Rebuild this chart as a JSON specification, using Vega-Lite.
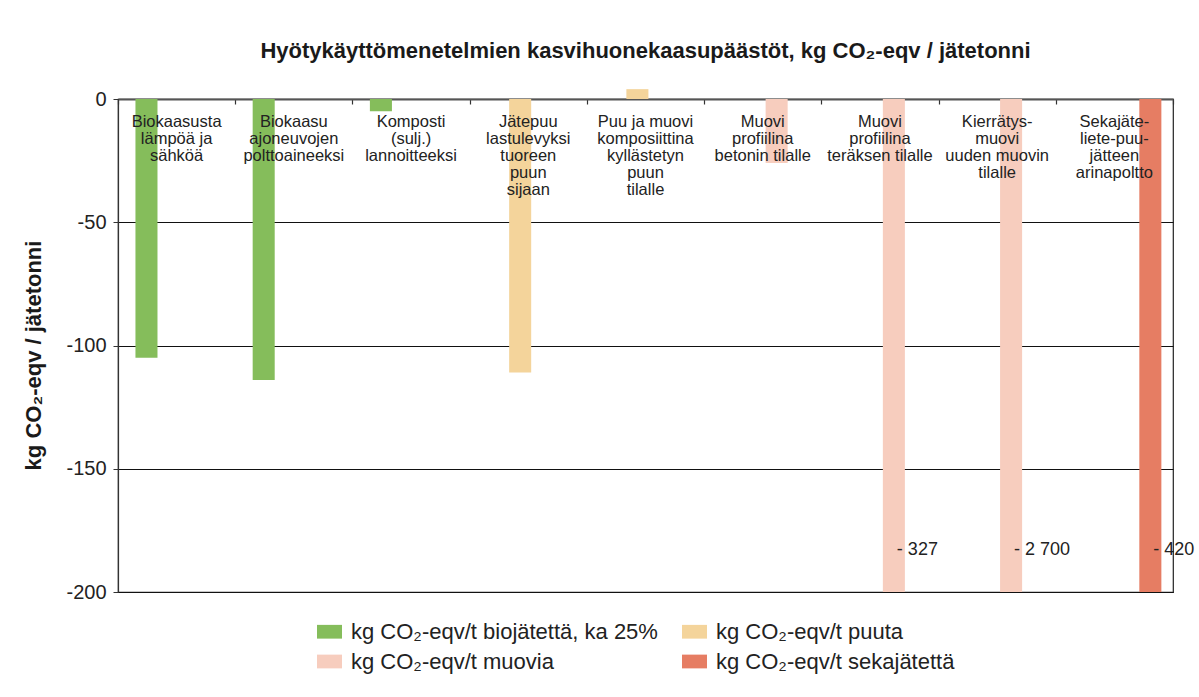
{
  "$schema": "https://vega.github.io/schema/vega-lite/v6.json",
  "width": 1055,
  "height": 493,
  "autosize": {"type": "none"},
  "padding": {"left": 118, "top": 99, "right": 26, "bottom": 105},
  "background": "white",
  "config": {
    "font": "Liberation Sans",
    "view": {"stroke": "#222", "strokeWidth": 1.2}
  },
  "title": {
    "text": "Hyötykäyttömenetelmien kasvihuonekaasupäästöt, kg CO₂-eqv / jätetonni",
    "fontSize": 22,
    "fontWeight": "bold",
    "color": "#1a1a1a",
    "anchor": "middle",
    "offset": 26
  },
  "data": {
    "values": [
      {"cat": "Biokaasusta\nlämpöä ja\nsähköä", "series": "kg CO₂-eqv/t biojätettä, ka 25%", "value": -105, "valueLabel": ""},
      {"cat": "Biokaasu\najoneuvojen\npolttoaineeksi", "series": "kg CO₂-eqv/t biojätettä, ka 25%", "value": -114, "valueLabel": ""},
      {"cat": "Komposti\n(sulj.)\nlannoitteeksi", "series": "kg CO₂-eqv/t biojätettä, ka 25%", "value": -5, "valueLabel": ""},
      {"cat": "Jätepuu\nlastulevyksi\ntuoreen\npuun\nsijaan", "series": "kg CO₂-eqv/t puuta", "value": -111, "valueLabel": ""},
      {"cat": "Puu ja muovi\nkomposiittina\nkyllästetyn\npuun\ntilalle", "series": "kg CO₂-eqv/t puuta", "value": 4, "valueLabel": ""},
      {"cat": "Muovi\nprofiilina\nbetonin tilalle", "series": "kg CO₂-eqv/t muovia", "value": -26, "valueLabel": ""},
      {"cat": "Muovi\nprofiilina\nteräksen tilalle", "series": "kg CO₂-eqv/t muovia", "value": -327, "valueLabel": "- 327"},
      {"cat": "Kierrätys-\nmuovi\nuuden muovin\ntilalle", "series": "kg CO₂-eqv/t muovia", "value": -2700, "valueLabel": "- 2 700"},
      {"cat": "Sekajäte-\nliete-puu-\njätteen\narinapoltto", "series": "kg CO₂-eqv/t sekajätettä", "value": -420, "valueLabel": "- 420"}
    ]
  },
  "encoding": {
    "x": {
      "field": "cat",
      "type": "nominal",
      "sort": null,
      "scale": {
        "domain": [
          "Biokaasusta\nlämpöä ja\nsähköä",
          "Biokaasu\najoneuvojen\npolttoaineeksi",
          "Komposti\n(sulj.)\nlannoitteeksi",
          "Jätepuu\nlastulevyksi\ntuoreen\npuun\nsijaan",
          "Puu ja muovi\nkomposiittina\nkyllästetyn\npuun\ntilalle",
          "Muovi\nprofiilina\nbetonin tilalle",
          "Muovi\nprofiilina\nteräksen tilalle",
          "Kierrätys-\nmuovi\nuuden muovin\ntilalle",
          "Sekajäte-\nliete-puu-\njätteen\narinapoltto"
        ],
        "paddingInner": 0,
        "paddingOuter": 0
      },
      "axis": {
        "orient": "top",
        "title": null,
        "labels": false,
        "tickBand": "extent",
        "tickSize": -5,
        "tickColor": "#333",
        "tickWidth": 1.2,
        "domainColor": "#555",
        "domainWidth": 2
      }
    },
    "xOffset": {
      "field": "series",
      "type": "nominal",
      "scale": {
        "domain": ["kg CO₂-eqv/t biojätettä, ka 25%", "kg CO₂-eqv/t puuta", "kg CO₂-eqv/t muovia", "kg CO₂-eqv/t sekajätettä"],
        "paddingInner": 0,
        "paddingOuter": 0.66,
        "align": 0.6
      }
    },
    "y": {
      "field": "value",
      "type": "quantitative",
      "scale": {"domain": [-200, 0], "nice": false, "zero": false},
      "axis": {
        "values": [0, -50, -100, -150, -200],
        "labelExpr": "'' + datum.value",
        "title": "kg CO₂-eqv / jätetonni",
        "titleFontSize": 22,
        "titleFontWeight": "bold",
        "titleColor": "#1a1a1a",
        "titlePadding": 20,
        "titleY": 256,
        "titleAlign": "center",
        "labelFontSize": 20,
        "labelColor": "#222",
        "labelPadding": 7,
        "tickSize": 5,
        "tickColor": "#333",
        "domainColor": "#333",
        "domainWidth": 1.2,
        "grid": true,
        "gridColor": "#111",
        "gridWidth": 1,
        "gridOpacity": 1
      }
    },
    "color": {
      "field": "series",
      "type": "nominal",
      "scale": {
        "domain": ["kg CO₂-eqv/t biojätettä, ka 25%", "kg CO₂-eqv/t puuta", "kg CO₂-eqv/t muovia", "kg CO₂-eqv/t sekajätettä"],
        "range": ["#85bd5b", "#f4d49b", "#f7cdbe", "#e67d63"]
      },
      "legend": {
        "title": null,
        "orient": "none",
        "legendX": 199,
        "legendY": 520,
        "direction": "horizontal",
        "columns": 2,
        "columnPadding": 24,
        "rowPadding": 6,
        "padding": 0,
        "symbolType": "M-1,-0.55L1,-0.55L1,0.55L-1,0.55Z",
        "symbolSize": 625,
        "symbolStrokeWidth": 0,
        "symbolOpacity": 1,
        "labelFontSize": 22,
        "labelColor": "#222",
        "labelOffset": 9,
        "labelLimit": 500
      }
    }
  },
  "layer": [
    {
      "transform": [{"filter": "datum.value <= 0"}],
      "mark": {"type": "bar", "clip": true}
    },
    {
      "transform": [{"filter": "datum.value > 0"}],
      "mark": {"type": "bar", "clip": false}
    },
    {
      "mark": {"type": "text", "lineBreak": "\n", "baseline": "top", "align": "center", "fontSize": 16.5, "lineHeight": 17, "dy": 15, "color": "#222"},
      "encoding": {
        "xOffset": null,
        "color": null,
        "y": {"datum": 0},
        "text": {"field": "cat"}
      }
    },
    {
      "transform": [{"filter": "datum.valueLabel != ''"}],
      "mark": {"type": "text", "baseline": "middle", "align": "left", "fontSize": 18, "dx": 3, "color": "#222"},
      "encoding": {
        "color": null,
        "y": {"datum": -183},
        "text": {"field": "valueLabel"}
      }
    }
  ]
}
